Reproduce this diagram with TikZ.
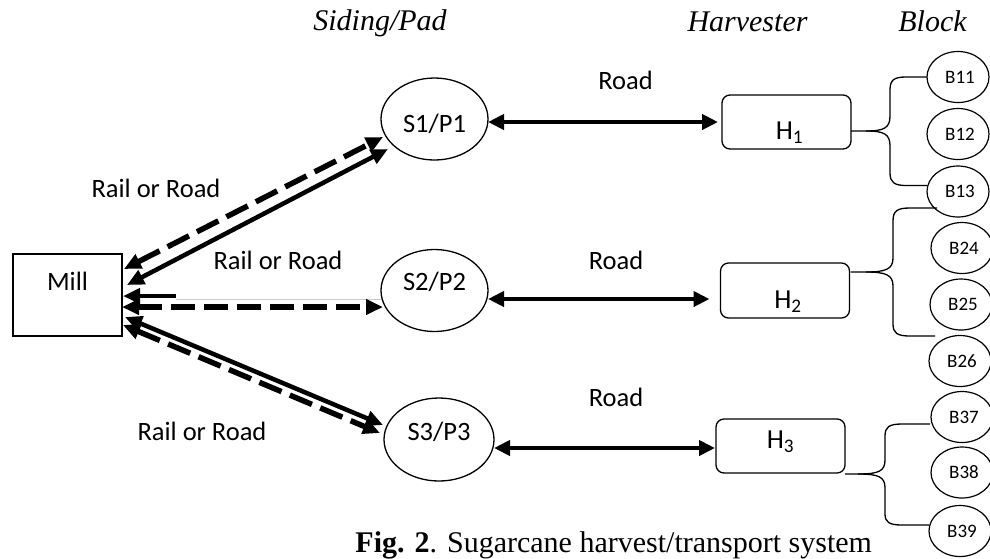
\documentclass[tikz,border=0pt]{standalone}
\usepackage{fontspec}
\setmainfont{Liberation Serif}
\newfontfamily\calfont{Carlito}
\usetikzlibrary{arrows.meta,calc,shapes.geometric}
\begin{document}
\begin{tikzpicture}[x=1pt,y=-1pt,
  every node/.style={inner sep=0pt, outer sep=0pt},
  sanslbl/.style={font=\calfont\fontsize{26.5}{30}\selectfont, text height=17pt, text depth=0pt},
  hlbl/.style={font=\calfont\fontsize{27.5}{30}\selectfont, text height=17.7pt, text depth=0pt},
  blklbl/.style={font=\calfont\fontsize{19}{22}\selectfont, text height=12.2pt, text depth=0pt},
  hdr/.style={font=\fontsize{30}{34}\selectfont\itshape, anchor=base},
  site/.style={draw, ellipse, line width=1.3pt, minimum width=107pt, minimum height=82pt},
  harv/.style={draw, rounded corners=8pt, line width=1.3pt, minimum width=129pt, minimum height=54pt},
  blk/.style={draw, ellipse, line width=1.2pt, minimum width=62pt, minimum height=51pt},
  railsolid/.style={line width=4.5pt, {Triangle[length=17pt,width=15pt]}-{Triangle[length=17pt,width=15pt]}},
  raildash/.style={line width=5.5pt, dash pattern=on 24pt off 9pt, {Triangle[length=17pt,width=15pt]}-{Triangle[length=17pt,width=15pt]}},
  roadarrow/.style={line width=4pt, {Triangle[length=16pt,width=15pt]}-{Triangle[length=16pt,width=15pt]}},
  bracepath/.style={line width=1.3pt}
]
\useasboundingbox (0,0) rectangle (990,558);

% headers
\node[hdr] (hS) at (380,30) {Siding/Pad};
\node[hdr] (hH) at (747.5,31) {Harvester};
\node[hdr] (hB) at (932.5,31) {Block};

% Mill
\node[draw, line width=1.3pt, minimum width=109pt, minimum height=82pt,
      label={[sanslbl,yshift=13pt]center:Mill}] (Mill) at (67.5,295) {};

% sidings / pads
\node[site, label={[sanslbl,yshift=-5pt]center:S1/P1}] (S1) at (434.5,119) {};
\node[site, label={[sanslbl,yshift=8.5pt]center:S2/P2}] (S2) at (434.5,290.5) {};
\node[site, minimum width=110pt, minimum height=83pt, label={[sanslbl,yshift=7.5pt]center:S3/P3}] (S3) at (439,439.5) {};

% harvesters
\node[harv, label={[hlbl,xshift=3pt,yshift=-9pt]center:H\textsubscript{1}}] (H1) at (786.5,122) {};
\node[harv, minimum height=55pt, label={[hlbl,xshift=3pt,yshift=-9.5pt]center:H\textsubscript{2}}] (H2) at (785,290.5) {};
\node[harv, label={[hlbl,xshift=0pt,yshift=6pt]center:H\textsubscript{3}}] (H3) at (780.5,446) {};

% blocks
\node[blk, label={[blklbl,xshift=2pt]center:B11}] (B11) at (958,77) {};
\node[blk, label={[blklbl,xshift=2pt]center:B12}] (B12) at (958,134) {};
\node[blk, label={[blklbl,xshift=2pt]center:B13}] (B13) at (958,191.5) {};
\node[blk, label={[blklbl,xshift=2pt]center:B24}] (B24) at (962,248) {};
\node[blk, label={[blklbl,xshift=2pt]center:B25}] (B25) at (961,304.5) {};
\node[blk, label={[blklbl,xshift=2pt]center:B26}] (B26) at (960,361) {};
\node[blk, label={[blklbl,xshift=2pt]center:B37}] (B37) at (962,417) {};
\node[blk, label={[blklbl,xshift=2pt]center:B38}] (B38) at (962,472.5) {};
\node[blk, label={[blklbl,xshift=2pt]center:B39}] (B39) at (960,531) {};

% labels
\node[sanslbl] (r1) at (156,189) {Rail or Road};
\node[sanslbl] (r2) at (278,261) {Rail or Road};
\node[sanslbl] (r3) at (202,432) {Rail or Road};
\node[sanslbl] (d1) at (625.5,81) {Road};
\node[sanslbl] (d2) at (616,261) {Road};
\node[sanslbl] (d3) at (616,398) {Road};

% Mill <-> sidings
\draw[raildash] ($(Mill.east)+(2,-26)$) -- ($(S1.center)+(-51.5,18)$);
\draw[railsolid] ($(Mill.east)+(5,-10)$) -- ($(S1.center)+(-46.5,30)$);

\draw[gray!40, line width=0.8pt] ($(Mill.east)+(54,4)$) -- ($(S2.west)+(0,8.5)$);
\draw[line width=4.5pt, -{Triangle[length=17pt,width=15pt]}] ($(Mill.east)+(54,1)$) -- ($(Mill.east)+(1,1)$);
\draw[raildash] ($(Mill.east)+(0,12)$) -- ($(S2.west)+(2,16.5)$);

\draw[railsolid] ($(Mill.east)+(3,22)$) -- ($(S3.center)+(-56,-14.5)$);
\draw[raildash] ($(Mill.east)+(1,30)$) -- ($(S3.center)+(-59,-6.5)$);

% roads
\draw[roadarrow] ($(S1.east)+(0,3)$) -- ($(H1.west)+(-4,0)$);
\draw[roadarrow] ($(S2.east)+(0,8.5)$) -- ($(H2.west)+(-11,8.5)$);
\draw[roadarrow] ($(S3.east)+(0,8.5)$) -- ($(H3.west)+(-1,2)$);

% braces H1
\draw[bracepath] ($(H1.east)+(0,9)$) -- (866,131) .. controls (884,131) and (890,128) .. (890,116)
  -- (890,90) .. controls (890,80) and (894,77) .. (906,77) -- (B11.west);
\draw[bracepath] (866,131) .. controls (884,131) and (890,134) .. (890,146)
  -- (890,173) .. controls (890,182) and (894,185.5) .. (906,185.5) -- ($(B13.west)+(0,-6)$);

% braces H2
\draw[bracepath] ($(H2.east)+(1,-18.5)$) -- (866,272) .. controls (886,272) and (893,269) .. (893,258)
  -- (893,221) .. controls (893,211) and (897,208) .. (910,208) -- ($(B13.center)+(-21,16.5)$);
\draw[bracepath] (866,272) .. controls (886,272) and (893,275) .. (893,286)
  -- (893,324) .. controls (893,333) and (897,336) .. (910,336) -- ($(B26.center)+(-25,-25)$);

% braces H3
\draw[bracepath] ($(H3.south east)+(0,1)$) -- (858,474) .. controls (879,474) and (885,471) .. (885,460)
  -- (885,436) .. controls (885,427) and (889,424) .. (902,424) -- ($(B37.west)+(-1,7)$);
\draw[bracepath] (858,474) .. controls (879,474) and (885,477) .. (885,488)
  -- (885,514) .. controls (885,522) and (889,525) .. (902,525) -- ($(B39.west)+(0,-6)$);

% caption
\node[anchor=base east, font=\fontsize{30}{34}\selectfont] (cap) at (872,552) {\textbf{Fig. 2}. Sugarcane harvest/transport system};
\end{tikzpicture}
\end{document}
